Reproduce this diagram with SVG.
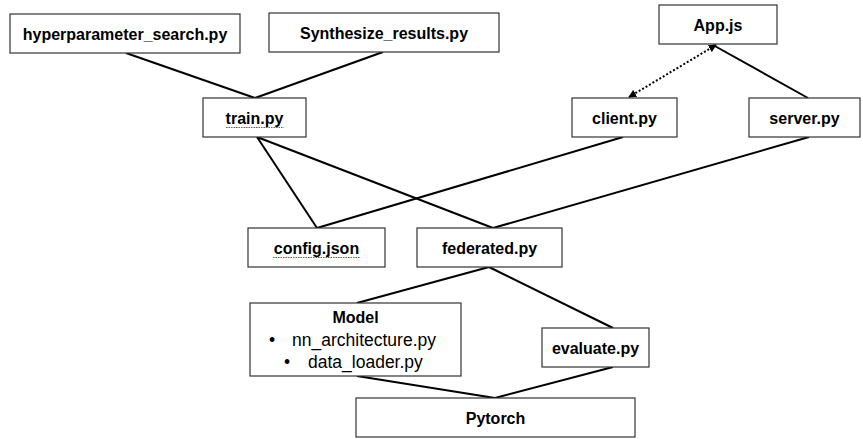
<svg xmlns="http://www.w3.org/2000/svg" width="863" height="439" viewBox="0 0 863 439">
<defs>
<style>
.box{fill:#fff;stroke:#333;stroke-width:1.2}
.t{font-family:"Liberation Sans",Arial,sans-serif;font-weight:bold;font-size:16px;fill:#000;text-anchor:middle}
.n{font-family:"Liberation Sans",Arial,sans-serif;font-size:17.5px;fill:#000}
.c{stroke:#000;stroke-width:2;fill:none}
.d{stroke:#000;stroke-width:2;stroke-dasharray:2 2;fill:none}
.sq{stroke:#e03030;stroke-width:1;stroke-dasharray:1.5 1;fill:none}
</style>
<marker id="ah" viewBox="0 0 10 10" refX="9" refY="5" markerWidth="4" markerHeight="4" orient="auto-start-reverse">
<path d="M0,0 L10,5 L0,10 z" fill="#000"/>
</marker>
</defs>
<rect width="863" height="439" fill="#fff"/>
<g id="connectors">
<line class="c" x1="126" y1="53" x2="255" y2="98"/>
<line class="c" x1="383" y1="52" x2="255" y2="98"/>
<line class="d" x1="716" y1="45" x2="629" y2="97" marker-start="url(#ah)" marker-end="url(#ah)"/>
<line class="c" x1="713" y1="45" x2="808" y2="98"/>
<line class="c" x1="257" y1="137" x2="317" y2="228"/>
<line class="c" x1="257" y1="137" x2="493" y2="228"/>
<line class="c" x1="623" y1="137" x2="317" y2="228"/>
<line class="c" x1="809" y1="137" x2="493" y2="228"/>
<line class="c" x1="489" y1="267" x2="357" y2="303"/>
<line class="c" x1="489" y1="267" x2="613" y2="328"/>
<line class="c" x1="357" y1="376" x2="495" y2="398"/>
<line class="c" x1="613" y1="367" x2="495" y2="398"/>
</g>
<g id="hyperparameter_search">
<rect class="box" x="10" y="14" width="230" height="39"/>
<text class="t" x="125" y="40">hyperparameter_search.py</text>
</g>
<g id="synthesize_results">
<rect class="box" x="269" y="13" width="230" height="39"/>
<text class="t" x="384" y="39">Synthesize_results.py</text>
</g>
<g id="appjs">
<rect class="box" x="659" y="5" width="118" height="39"/>
<text class="t" x="718" y="31">App.js</text>
</g>
<g id="train">
<rect class="box" x="203" y="98" width="103" height="39"/>
<text class="t" x="254.5" y="124">train.py</text>
<path class="sq" d="M226,127.5 L284,127.5"/>
</g>
<g id="client">
<rect class="box" x="572" y="98" width="105" height="39"/>
<text class="t" x="624.5" y="124">client.py</text>
</g>
<g id="server">
<rect class="box" x="749" y="98" width="111" height="39"/>
<text class="t" x="804.5" y="124">server.py</text>
</g>
<g id="config">
<rect class="box" x="248" y="228" width="137" height="39"/>
<text class="t" x="316.5" y="254">config.json</text>
<path class="sq" d="M273,257.5 L360,257.5"/>
</g>
<g id="federated">
<rect class="box" x="417" y="228" width="145" height="39"/>
<text class="t" x="489.5" y="254">federated.py</text>
</g>
<g id="model">
<rect class="box" x="250" y="303" width="211" height="73"/>
<text class="t" x="355.5" y="323">Model</text>
<text class="n" x="269" y="346">•</text>
<text class="n" x="292" y="346">nn_architecture.py</text>
<text class="n" x="284" y="368">•</text>
<text class="n" x="308" y="368">data_loader.py</text>
</g>
<g id="evaluate">
<rect class="box" x="542" y="328" width="107" height="39"/>
<text class="t" x="595.5" y="354">evaluate.py</text>
</g>
<g id="pytorch">
<rect class="box" x="356" y="398" width="279" height="39"/>
<text class="t" x="495.5" y="424">Pytorch</text>
</g>
</svg>
